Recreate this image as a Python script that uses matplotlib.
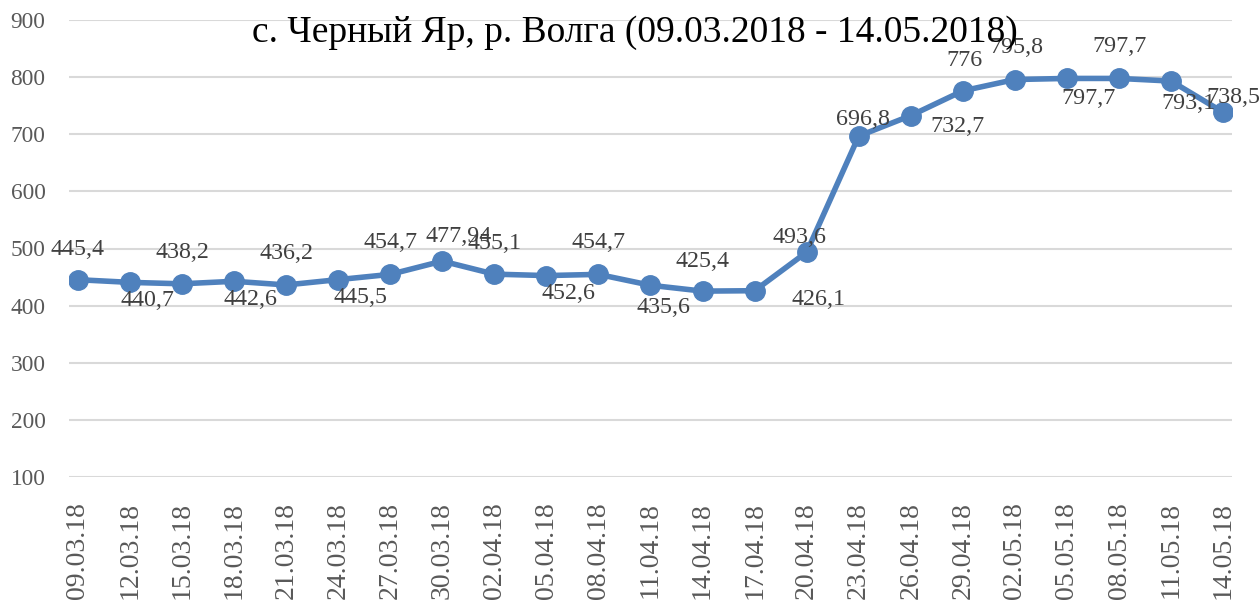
import matplotlib
matplotlib.use("Agg")
import matplotlib.pyplot as plt

plt.rcParams['font.family'] = ['Liberation Serif', 'DejaVu Serif']

# data
dates = ["09.03.18", "12.03.18", "15.03.18", "18.03.18", "21.03.18", "24.03.18",
         "27.03.18", "30.03.18", "02.04.18", "05.04.18", "08.04.18", "11.04.18",
         "14.04.18", "17.04.18", "20.04.18", "23.04.18", "26.04.18", "29.04.18",
         "02.05.18", "05.05.18", "08.05.18", "11.05.18", "14.05.18"]
values = [445.4, 440.7, 438.2, 442.6, 436.2, 445.5, 454.7, 477.94, 455.1, 452.6,
          454.7, 435.6, 425.4, 426.1, 493.6, 696.8, 732.7, 776, 795.8, 797.7,
          797.7, 793.1, 738.5]
labels = ["445,4", "440,7", "438,2", "442,6", "436,2", "445,5", "454,7", "477,94",
          "455,1", "452,6", "454,7", "435,6", "425,4", "426,1", "493,6", "696,8",
          "732,7", "776", "795,8", "797,7", "797,7", "793,1", "738,5"]
y_ticks = [100, 200, 300, 400, 500, 600, 700, 800, 900]

# label offsets in pixels (dx, dy up)
offsets = [(0, 30), (18, -18), (0, 31), (16, -18), (0, 31), (22, -18), (0, 32),
           (16, 25), (0, 31), (22, -18), (0, 32), (13, -22), (0, 30), (64, -9),
           (-7, 15), (4, 17), (47, -11), (2, 30), (1, 32), (22, -20), (1, 32),
           (17, -22), (10, 15)]

blue = "#4F81BD"

fig = plt.figure(figsize=(12.6, 6), dpi=100)
ax = fig.add_axes([69 / 1260, 1 - 477 / 600, (1232 - 69) / 1260, (477 - 20) / 600])

x = list(range(len(dates)))
ax.plot(x, values, color=blue, linewidth=4, marker="o", markersize=14,
        solid_capstyle="round", zorder=3)

for i in x:
    ax.annotate(labels[i], (i, values[i]), xytext=offsets[i], textcoords="offset pixels",
                ha="center", va="center", fontsize=17.3, color="#404040", zorder=4)

ax.set_xlim(-0.17, len(dates) - 1 + 0.17)
ax.set_ylim(100, 900)
ax.set_yticks(y_ticks)
ax.set_xticks(x)
ax.set_xticklabels(dates, rotation=90, fontsize=20, color="#595959")
ax.tick_params(axis="y", labelsize=16.8, labelcolor="#595959", length=0, pad=17)
ax.tick_params(axis="x", length=0, pad=18)
ax.grid(axis="y", color="#D9D9D9", linewidth=1.5)
ax.set_axisbelow(True)
for s in ax.spines.values():
    s.set_visible(False)

fig.text(252 / 1260, 1 - 42 / 600, "с. Черный Яр, р. Волга (09.03.2018 - 14.05.2018)",
         ha="left", va="baseline", fontsize=27, color="black")

fig.savefig("out.png", dpi=100)
